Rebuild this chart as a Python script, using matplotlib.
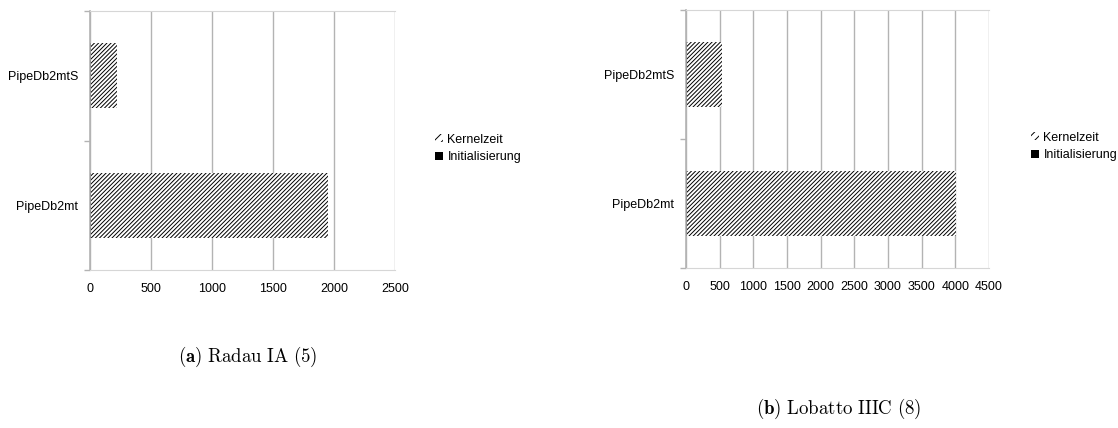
import numpy as np
import matplotlib
matplotlib.use("Agg")
import matplotlib.pyplot as plt
from matplotlib.patches import Patch

plt.rcParams['font.family'] = ['Liberation Sans', 'DejaVu Sans']
plt.rcParams['mathtext.fontset'] = 'cm'
plt.rcParams['hatch.linewidth'] = 0.7

# data
categories = ['PipeDb2mt', 'PipeDb2mtS']
init_a = [8, 8]
kernel_a = [1945, 214]
init_b = [15, 15]
kernel_b = [3995, 520]
xticks_a = [0, 500, 1000, 1500, 2000, 2500]
xticks_b = [0, 500, 1000, 1500, 2000, 2500, 3000, 3500, 4000, 4500]
series = ['Kernelzeit', 'Initialisierung']
captions = [r'$\mathbf{(a)}\ \mathrm{Radau\ IA\ (5)}$',
            r'$\mathbf{(b)}\ \mathrm{Lobatto\ IIIC\ (8)}$']

W, H = 1118, 428
fig = plt.figure(figsize=(W / 100, H / 100), dpi=100)

grid_col = '#b3b3b3'
fs = 9.0
hatch = '/' * 8


def panel(rect, init, kernel, xticks):
    ax = fig.add_axes([rect[0] / W, 1 - rect[3] / H, (rect[2] - rect[0]) / W, (rect[3] - rect[1]) / H])
    y = np.arange(len(categories))
    ax.barh(y, init, height=0.5, color='black', linewidth=0)
    ax.barh(y, kernel, left=init, height=0.5, color='white', edgecolor='black',
            linewidth=0, hatch=hatch)
    ax.set_xlim(xticks[0], xticks[-1])
    ax.set_ylim(-0.5, len(categories) - 0.5)
    ax.set_xticks(xticks)
    ax.set_xticklabels([str(t) for t in xticks], fontsize=fs)
    ax.tick_params(axis='x', length=0, pad=9)
    ax.set_yticks(y)
    ax.set_yticklabels(categories, fontsize=fs)
    ax.set_yticks(np.arange(-0.5, len(categories)), minor=True)
    ax.tick_params(axis='y', which='major', length=0, pad=8.6)
    ax.tick_params(axis='y', which='minor', length=4.3, color=grid_col, width=1)
    ax.grid(axis='x', color=grid_col, linewidth=1)
    ax.set_axisbelow(True)
    ax.spines['right'].set_visible(False)
    ax.spines['left'].set_color(grid_col)
    ax.spines['left'].set_linewidth(1.2)
    ax.spines['top'].set_color('#d6d6d6')
    ax.spines['bottom'].set_color('#d6d6d6')
    return ax


panel((90, 11, 395, 270), init_a, kernel_a, xticks_a)
panel((686, 10, 989, 268), init_b, kernel_b, xticks_b)

handles = [Patch(facecolor='white', edgecolor='black', linewidth=0, hatch='////'),
           Patch(facecolor='black', linewidth=0)]

for x0, yc in [(435, 148.5), (1031, 146.5)]:
    fig.legend(handles, series, loc='center left', bbox_to_anchor=(x0 / W, 1 - yc / H),
               frameon=False, fontsize=fs, handlelength=0.65, handleheight=0.65,
               handletextpad=0.35, labelspacing=0.45, borderpad=0, borderaxespad=0)

fig.text(178 / W, 1 - 357 / H, captions[0], fontsize=13.6, ha='left', va='center')
fig.text(756 / W, 1 - 409 / H, captions[1], fontsize=13.6, ha='left', va='center')

fig.savefig('out.png', dpi=100)
